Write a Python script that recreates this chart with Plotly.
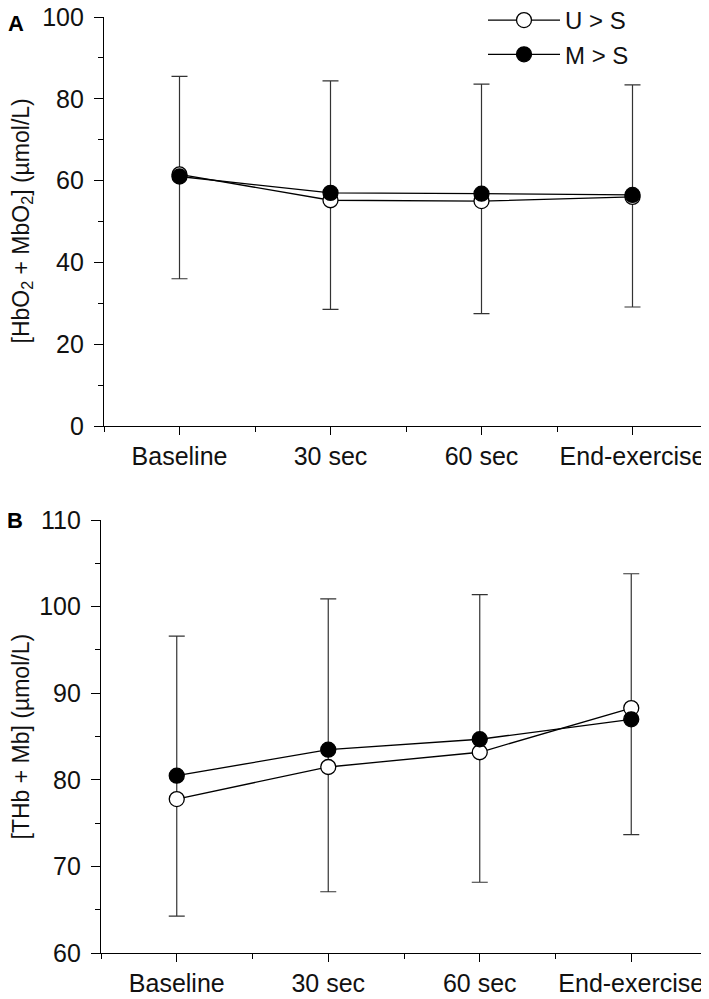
import plotly.graph_objects as go

categories = ["Baseline", "30 sec", "60 sec", "End-exercise"]
series_names = ["U > S", "M > S"]

# Panel A: [HbO2 + MbO2]
a_us = [61.5, 55.2, 55.0, 56.0]
a_ms = [61.0, 57.0, 56.8, 56.5]
a_err_hi = [85.5, 84.4, 83.6, 83.4]
a_err_lo = [36.0, 28.5, 27.5, 29.1]

# Panel B: [THb + Mb]
b_us = [77.8, 81.5, 83.2, 88.3]
b_ms = [80.5, 83.5, 84.7, 87.0]
b_err_hi = [96.6, 100.9, 101.4, 103.8]
b_err_lo = [64.3, 67.1, 68.2, 73.7]

a_yticks = [0, 20, 40, 60, 80, 100]
b_yticks = [60, 70, 80, 90, 100, 110]

FONT = "Liberation Sans, Arial, sans-serif"
TXT = "#111111"
OFF = 8  # page body margin
W, H = 709 - OFF, 999 - OFF
xs = list(range(len(categories)))


def px(v):
    return (v - OFF) / W


def py(v):
    return 1 - (v - OFF) / H


fig = go.Figure()


def add_panel(us, ms, hi, lo, xa, ya, legend):
    fig.add_trace(go.Scatter(
        x=xs, y=ms, mode="markers", xaxis=xa, yaxis=ya,
        marker=dict(size=1, opacity=0), showlegend=False, hoverinfo="skip",
        error_y=dict(type="data", symmetric=False,
                     array=[h - m for h, m in zip(hi, ms)],
                     arrayminus=[m - l for m, l in zip(ms, lo)],
                     color="#333333", thickness=1.2, width=8)))
    fig.add_trace(go.Scatter(
        x=xs, y=us, mode="lines+markers", name=series_names[0], xaxis=xa, yaxis=ya,
        line=dict(color="black", width=1.3), showlegend=legend,
        marker=dict(symbol="circle", size=15, color="white",
                    line=dict(color="black", width=1.3))))
    fig.add_trace(go.Scatter(
        x=xs, y=ms, mode="lines+markers", name=series_names[1], xaxis=xa, yaxis=ya,
        line=dict(color="black", width=1.3), showlegend=legend,
        marker=dict(symbol="circle", size=15, color="black",
                    line=dict(color="black", width=1.3))))


add_panel(a_us, a_ms, a_err_hi, a_err_lo, "x", "y", True)
add_panel(b_us, b_ms, b_err_hi, b_err_lo, "x2", "y2", False)

xcommon = dict(range=[-0.5, len(categories) - 0.5], tickmode="array", tickvals=xs,
               ticktext=categories, ticks="outside", ticklen=8, tickwidth=1.3,
               tickcolor="black", showline=True, linecolor="black", linewidth=1.3,
               showgrid=False, zeroline=False, fixedrange=True, automargin=False,
               ticklabelstandoff=0, ticklabeloverflow="allow",
               tickfont=dict(family=FONT, size=25, color=TXT),
               minor=dict(tickmode="linear", tick0=0.5, dtick=1, ticks="outside",
                          ticklen=5, tickwidth=1.3, tickcolor="black", showgrid=False))
ycommon = dict(ticks="outside", ticklen=9, tickwidth=1.3, tickcolor="black",
               showline=True, linecolor="black", linewidth=1.3, showgrid=False,
               zeroline=False, ticklabelstandoff=5, automargin=False,
               ticklabeloverflow="allow",
               tickfont=dict(family=FONT, size=25, color=TXT))

fig.update_layout(
    template="none",
    width=W, height=H,
    margin=dict(l=0, r=0, t=0, b=0, autoexpand=False),
    paper_bgcolor="white", plot_bgcolor="white",
    showlegend=True,
    legend=dict(x=px(483), y=py(-2), xanchor="left", yanchor="top",
                bgcolor="rgba(0,0,0,0)", itemwidth=72,
                font=dict(family=FONT, size=24, color=TXT),
                tracegroupgap=0),
    xaxis=dict(domain=[px(104), px(708)], anchor="y", **xcommon),
    yaxis=dict(domain=[py(426), py(17)], anchor="x", range=[0, 100],
               tickvals=a_yticks,
               minor=dict(dtick=10, tick0=0, ticks="outside", ticklen=5,
                          tickwidth=1.3, tickcolor="black", showgrid=False),
               **ycommon),
    xaxis2=dict(domain=[px(101), px(707)], anchor="y2", **xcommon),
    yaxis2=dict(domain=[py(953.3), py(520)], anchor="x2", range=[60, 110],
                tickvals=b_yticks,
                minor=dict(dtick=5, tick0=0, ticks="outside", ticklen=5,
                           tickwidth=1.3, tickcolor="black", showgrid=False),
                **ycommon),
)

for txt, x, y in [("<b>A</b>", 15.5, 23.5), ("<b>B</b>", 15, 520)]:
    fig.add_annotation(text=txt, x=px(x), y=py(y), xref="paper", yref="paper",
                       showarrow=False, xanchor="center", yanchor="middle",
                       font=dict(family=FONT, size=22, color="black"))

fig.add_annotation(text="[HbO<sub>2</sub> + MbO<sub>2</sub>] (µmol/L)", textangle=-90,
                   x=px(21.5), y=py(221), xref="paper", yref="paper", showarrow=False,
                   xanchor="center", yanchor="middle",
                   font=dict(family=FONT, size=23, color=TXT))
fig.add_annotation(text="[THb + Mb] (µmol/L)", textangle=-90,
                   x=px(20.5), y=py(737), xref="paper", yref="paper", showarrow=False,
                   xanchor="center", yanchor="middle",
                   font=dict(family=FONT, size=23, color=TXT))

fig.write_html("out.html")
